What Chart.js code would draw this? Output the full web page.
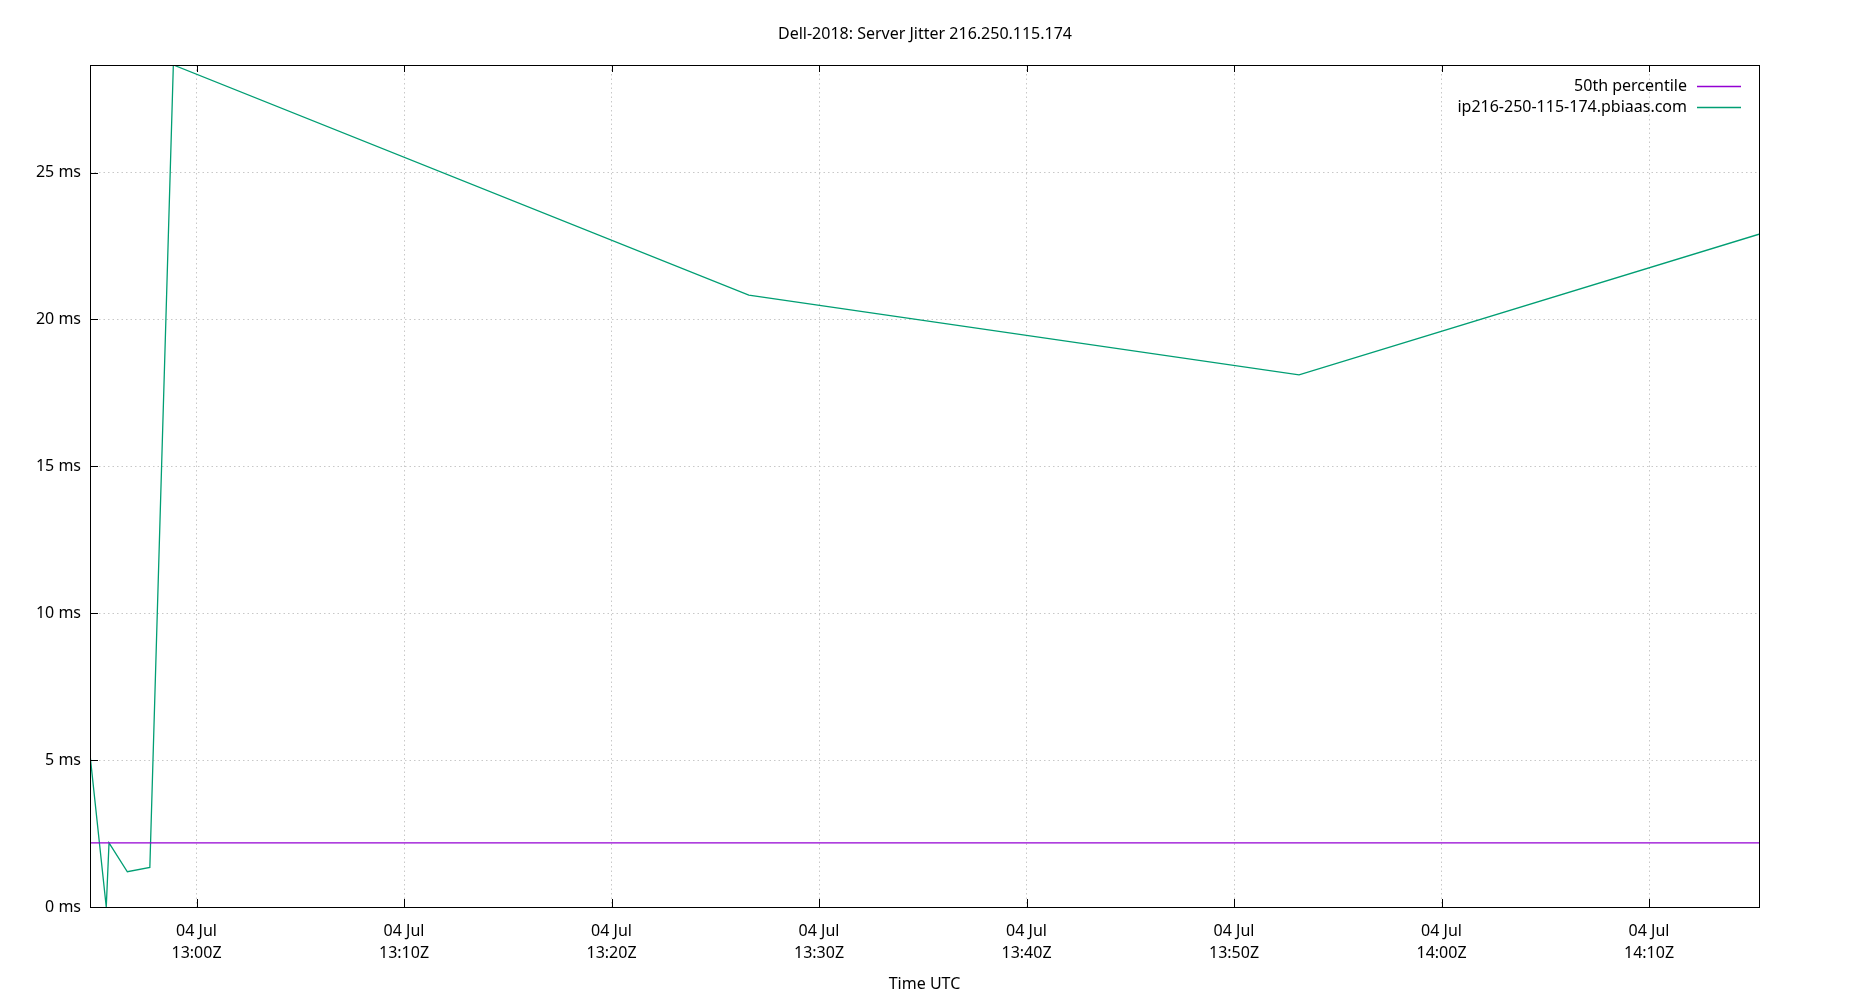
<!DOCTYPE html>
<html>
<head>
<meta charset="utf-8">
<script src="https://cdn.jsdelivr.net/npm/chart.js@4.4.1/dist/chart.umd.min.js"></script>
<style>
  html, body { margin: 0; padding: 0; background: #fff; }
  #wrap { width: 1850px; height: 1000px; }
</style>
</head>
<body>
<div id="wrap"><canvas id="c" width="1850" height="1000"></canvas></div>
<script>
// values
const chartTitle = 'Dell-2018: Server Jitter 216.250.115.174';
const hostLabel = 'ip216-250-115-174.pbiaas.com';
const medianLabel = '50th percentile';
const dateLabel = '04 Jul';
const sampleTimes = ['12:54:52', '12:55:39', '12:55:47', '12:56:40', '12:57:45', '12:58:53', '13:26:37', '13:53:08', '14:15:18'];
const jitterMs = [5.19, 0.0, 2.18, 1.20, 1.35, 28.66, 20.83, 18.11, 22.9];
const medianMs = 2.18;
const xTickTimes = ['13:00', '13:10', '13:20', '13:30', '13:40', '13:50', '14:00', '14:10'];
const yTicks = [0, 5, 10, 15, 20, 25];

const FONT = '"Noto Sans", "Open Sans", sans-serif';
const PURPLE = '#9400d3';
const GREEN = '#009e73';

// minutes relative to 13:00
function toMin(t) {
  const [h, m, s] = t.split(':').map(Number);
  return (h - 13) * 60 + m + (s || 0) / 60;
}
function fmtMin(v) {
  const total = Math.round(v) + 13 * 60;
  const h = Math.floor(total / 60), m = total % 60;
  return String(h).padStart(2, '0') + ':' + String(m).padStart(2, '0') + 'Z';
}

const xs = sampleTimes.map(toMin);
const xMin = xs[0], xMax = xs[xs.length - 1];

// gnuplot-style frame, inward ticks and right-aligned key
const gnuplotFrame = {
  id: 'gnuplotFrame',
  afterDatasetsDraw(chart) {
    const { ctx, chartArea: a, scales } = chart;
    ctx.save();
    ctx.strokeStyle = '#000';
    ctx.lineWidth = 1;
    ctx.beginPath();
    scales.x.ticks.forEach(t => {
      const px = Math.round(scales.x.getPixelForValue(t.value)) + 0.5;
      ctx.moveTo(px, a.bottom); ctx.lineTo(px, a.bottom - 8);
      ctx.moveTo(px, a.top); ctx.lineTo(px, a.top + 7);
    });
    scales.y.ticks.forEach(t => {
      const py = Math.round(scales.y.getPixelForValue(t.value)) + 0.5;
      ctx.moveTo(a.left, py); ctx.lineTo(a.left + 8, py);
    });
    ctx.stroke();
    ctx.strokeRect(Math.round(a.left) + 0.5, Math.round(a.top) + 0.5,
      Math.round(a.right - a.left), Math.round(a.bottom - a.top));

    ctx.font = '16px ' + FONT;
    ctx.textAlign = 'right';
    ctx.textBaseline = 'middle';
    chart.data.datasets.forEach((ds, i) => {
      const y = a.top + 21 + i * 21.3;
      ctx.fillStyle = '#000';
      ctx.fillText(ds.label, a.right - 72, y);
      ctx.strokeStyle = ds.borderColor;
      ctx.lineWidth = 1.3;
      ctx.beginPath();
      ctx.moveTo(a.right - 62, Math.round(y) + 0.5);
      ctx.lineTo(a.right - 18, Math.round(y) + 0.5);
      ctx.stroke();
    });
    ctx.restore();
  }
};

new Chart(document.getElementById('c'), {
  type: 'line',
  data: {
    datasets: [
      {
        label: medianLabel,
        data: [{ x: xMin, y: medianMs }, { x: xMax, y: medianMs }],
        borderColor: PURPLE,
        borderWidth: 1.3,
        pointRadius: 0,
        tension: 0,
      },
      {
        label: hostLabel,
        data: xs.map((x, i) => ({ x, y: jitterMs[i] })),
        borderColor: GREEN,
        borderWidth: 1.3,
        pointRadius: 0,
        tension: 0,
      },
    ],
  },
  options: {
    responsive: false,
    animation: false,
    events: [],
    devicePixelRatio: 1,
    layout: { padding: 0 },
    plugins: {
      legend: { display: false },
      tooltip: { enabled: false },
      title: {
        display: true,
        text: chartTitle,
        color: '#000',
        font: { family: FONT, size: 16, weight: 'normal', lineHeight: 1.2 },
        padding: { top: 25, bottom: 20.8 },
      },
    },
    scales: {
      x: {
        type: 'linear',
        min: xMin,
        max: xMax,
        afterBuildTicks(scale) {
          scale.ticks = xTickTimes.map(t => ({ value: toMin(t) }));
        },
        afterFit(scale) { scale.height = 93; },
        grid: { color: '#c8c8c8', lineWidth: 1, drawTicks: false },
        border: { display: false, dash: [1.5, 3] },
        ticks: {
          color: '#000',
          padding: 14,
          maxRotation: 0,
          autoSkip: false,
          font: { family: FONT, size: 16, lineHeight: 1.35 },
          callback: v => [dateLabel, fmtMin(v)],
        },
        title: {
          display: true,
          text: 'Time UTC',
          color: '#000',
          font: { family: FONT, size: 16, lineHeight: 1.2 },
          padding: { top: 0, bottom: 6 },
        },
      },
      y: {
        min: 0,
        max: jitterMs.reduce((a, b) => Math.max(a, b)),
        afterBuildTicks(scale) {
          scale.ticks = yTicks.map(v => ({ value: v }));
        },
        afterFit(scale) { scale.width = 90; },
        grid: { color: '#c8c8c8', lineWidth: 1, drawTicks: false },
        border: { display: false, dash: [1.5, 3] },
        ticks: {
          color: '#000',
          padding: 9,
          font: { family: FONT, size: 16 },
          callback: v => v + ' ms',
        },
      },
      // empty right gutter so the title centres on the full canvas
      gutter: {
        type: 'linear',
        position: 'right',
        display: true,
        afterFit(scale) { scale.width = 91; },
        grid: { display: false, drawTicks: false },
        border: { display: false },
        ticks: { display: false },
      },
    },
  },
  plugins: [gnuplotFrame],
});
</script>
</body>
</html>
